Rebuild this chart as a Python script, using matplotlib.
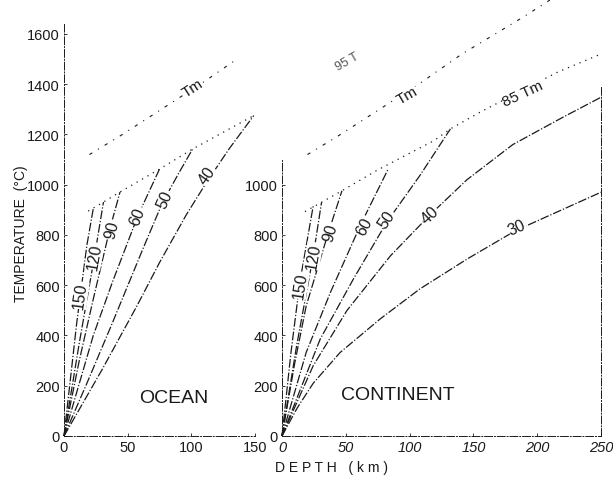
import matplotlib
matplotlib.use("Agg")
import matplotlib.pyplot as plt

plt.rcParams["font.family"] = ["Liberation Sans", "DejaVu Sans"]

# ocean geotherms (depth km, temperature C), labelled by heat flow
ocean_labels = ["150", "120", "90", "60", "50", "40"]
ocean_depth = [
    [0, 10, 18, 23],
    [0, 12, 24, 31],
    [0, 12, 23, 36, 44],
    [0, 23, 38, 58, 75],
    [0, 18, 38, 62, 77, 90, 101],
    [0, 30, 57, 75, 96, 112, 130, 149],
]
ocean_temp = [
    [0, 450, 760, 905],
    [0, 370, 716, 931],
    [0, 300, 545, 824, 971],
    [0, 400, 612, 876, 1062],
    [0, 210, 450, 745, 925, 1045, 1142],
    [0, 265, 515, 690, 880, 1010, 1145, 1275],
]

# continental geotherms
cont_labels = ["150", "120", "90", "60", "50", "40", "30"]
cont_depth = [
    [0, 7, 14, 24.5],
    [0, 11.5, 24.5, 31],
    [0, 10, 19, 36, 47],
    [0, 19, 38, 62, 83],
    [0, 30, 56, 82, 108, 132],
    [0, 24.5, 51, 85, 116, 145, 181, 220, 250],
    [0, 12, 24.5, 45.5, 77, 108, 145, 183, 250],
]
cont_temp = [
    [0, 330, 612, 916],
    [0, 360, 717, 930],
    [0, 290, 518, 804, 976],
    [0, 333, 572, 845, 1060],
    [0, 386, 625, 850, 1036, 1222],
    [0, 280, 500, 717, 880, 1020, 1160, 1268, 1348],
    [0, 112, 210, 332, 466, 585, 704, 817, 970],
]

# melting curve Tm and 0.85 Tm
ocean_tm_depth = [20, 44, 67, 110, 133]
ocean_tm_temp = [1120, 1194, 1269, 1410, 1490]
ocean_85_depth = [19, 31, 44, 75, 101, 149]
ocean_85_temp = [895, 931, 971, 1062, 1142, 1275]

cont_tm_depth = [20, 44, 67, 110, 141, 190, 210]
cont_tm_temp = [1120, 1194, 1269, 1410, 1520, 1670, 1735]
cont_85_depth = [18, 31, 47, 74, 89, 119, 132, 155, 216, 250]
cont_85_temp = [893, 930, 976, 1056, 1096, 1175, 1222, 1288, 1448, 1520]

# label positions (depth, temp, rotation)
ocean_label_pos = [(12.5, 560, 82), (24, 716, 80), (37.5, 824, 76),
                   (58, 876, 68), (79, 943, 66), (112, 1040, 55)]
cont_label_pos = [(14.1, 600, 81), (24.5, 717, 80), (37.6, 811, 74),
                  (65, 836, 62), (82, 864, 56), (116, 880, 43), (184, 832, 24)]

ink = "#1a1a1a"
geo_style = (0, (7, 1.5, 1, 1.5))
tm_style = (0, (3, 6, 1, 6))
p85_style = (0, (1, 4))
spine_style = (0, (8, 2, 1, 2))

fig = plt.figure(figsize=(6.13, 4.81), dpi=100)
ax1 = fig.add_axes([0.1044, 0.0915, 0.3116, 0.9085])
ax2 = fig.add_axes([0.4600, 0.0915, 0.5204, 0.9085])

ymax = 1739
for ax, xmax in ((ax1, 150), (ax2, 250)):
    ax.set_xlim(0, xmax)
    ax.set_ylim(0, ymax)
    ax.patch.set_alpha(0)
    ax.spines["top"].set_visible(False)
    ax.tick_params(direction="in", length=2, width=0.6, labelsize=10.5,
                   colors=ink, pad=3)
    for s in ("left", "bottom", "right"):
        ax.spines[s].set_linewidth(0.7)
        ax.spines[s].set_color(ink)
        ax.spines[s].set_linestyle(spine_style)

ax1.spines["right"].set_visible(False)
ax1.spines["left"].set_bounds(0, 1640)
ax1.set_yticks(range(0, 1601, 200))
ax1.set_xticks([0, 50, 100, 150])

ax2.spines["left"].set_bounds(0, 1100)
ax2.spines["right"].set_bounds(0, 1390)
ax2.set_yticks(range(0, 1001, 200))
ax2.set_xticks(range(0, 251, 50))
ax2.tick_params(axis="y", right=False)
for lab in ax2.get_xticklabels():
    lab.set_fontstyle("italic")

def draw_panel(ax, depths, temps, labels, label_pos, tm_d, tm_t, p85_d, p85_t):
    for d, t in zip(depths, temps):
        ax.plot(d, t, color=ink, lw=0.9, linestyle=geo_style, clip_on=False)
    ax.plot(tm_d, tm_t, color=ink, lw=0.8, linestyle=tm_style, clip_on=False)
    ax.plot(p85_d, p85_t, color=ink, lw=0.9, linestyle=p85_style, clip_on=False)
    for lab, (x, y, r) in zip(labels, label_pos):
        ax.text(x, y, lab, rotation=r, ha="center", va="center", fontsize=11.5,
                color=ink, rotation_mode="anchor",
                bbox=dict(facecolor="white", edgecolor="none", pad=0.3))

draw_panel(ax1, ocean_depth, ocean_temp, ocean_labels, ocean_label_pos,
           ocean_tm_depth, ocean_tm_temp, ocean_85_depth, ocean_85_temp)
draw_panel(ax2, cont_depth, cont_temp, cont_labels, cont_label_pos,
           cont_tm_depth, cont_tm_temp, cont_85_depth, cont_85_temp)

ax1.text(101, 1385, "Tm", rotation=33, ha="center", va="center", fontsize=11,
         color=ink, bbox=dict(facecolor="white", edgecolor="none", pad=0.3))
ax2.text(98, 1355, "Tm", rotation=30, ha="center", va="center", fontsize=11,
         color=ink, bbox=dict(facecolor="white", edgecolor="none", pad=0.3))
ax2.text(189, 1365, "85 Tm", rotation=25, ha="center", va="center", fontsize=11,
         color=ink, bbox=dict(facecolor="white", edgecolor="none", pad=0.3))
ax2.text(51, 1492, "95 T", rotation=30, ha="center", va="center", fontsize=9,
         color="#555555")

ax1.text(86, 155, "OCEAN", ha="center", va="center", fontsize=14, color=ink)
ax2.text(91, 167, "CONTINENT", ha="center", va="center", fontsize=14, color=ink)

fig.text(0.034, 0.515, "TEMPERATURE  (°C)", rotation=90, ha="center",
         va="center", fontsize=10, color=ink)
fig.text(0.540, 0.027, "D E P T H   ( k m )", ha="center", va="center",
         fontsize=10, color=ink)

fig.savefig("out.png", dpi=100)
